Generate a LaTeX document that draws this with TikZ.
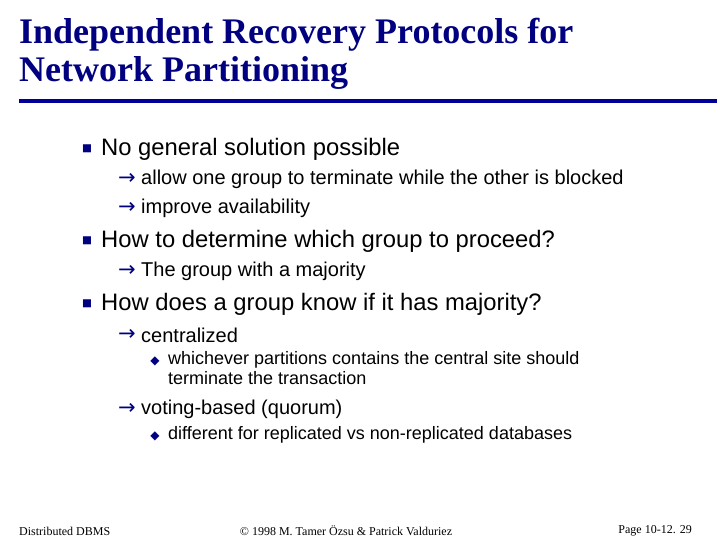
\documentclass[tikz,border=0pt]{standalone}
\usepackage{fontspec}
\setmainfont{Liberation Serif}
\setsansfont{Liberation Sans}
\newfontfamily\symf{DejaVu Sans}
\definecolor{navy}{RGB}{0,0,128}
\definecolor{rule}{RGB}{0,0,153}
\begin{document}
\begin{tikzpicture}[x=1pt,y=-1pt,
  ttl/.style={anchor=west,inner sep=0,text=navy,font=\rmfamily\bfseries\fontsize{36}{40}\selectfont},
  lone/.style={anchor=west,inner sep=0,font=\sffamily\fontsize{23.8}{26}\selectfont},
  ltwo/.style={anchor=west,inner sep=0,font=\sffamily\fontsize{20}{22}\selectfont},
  lthree/.style={anchor=north west,inner sep=0,align=left,font=\sffamily\fontsize{18}{20.5}\selectfont},
  sq/.style={anchor=center,inner sep=0,text=navy,font=\symf\fontsize{10.5}{10.5}\selectfont},
  arr/.style={anchor=center,inner sep=0,text=navy,font=\symf\fontsize{21}{21}\selectfont},
  dia/.style={anchor=center,inner sep=0,text=navy,font=\symf\fontsize{12}{12}\selectfont},
  foot/.style={inner sep=0,font=\rmfamily\fontsize{12}{14}\selectfont}]
\useasboundingbox (0,0) rectangle (720,540);
\node[ttl] (t1) at (19,35) {Independent Recovery Protocols for};
\node[ttl] (t2) at (19,73) {Network Partitioning};
\draw[rule,line width=4pt] (19,101) -- (717,101);
\node[sq] (b1) at (87,149) {■};
\node[lone] (l1) at (101,149) {No general solution possible};
\node[arr] (a1) at (127,179) {→};
\node[ltwo] (s1) at (141,179) {allow one group to terminate while the other is blocked};
\node[arr] (a2) at (127,208) {→};
\node[ltwo] (s2) at (141,208) {improve availability};
\node[sq] (b2) at (87,241) {■};
\node[lone] (l2) at (101,241) {How to determine which group to proceed?};
\node[arr] (a3) at (127,271) {→};
\node[ltwo] (s3) at (141,271) {The group with a majority};
\node[sq] (b3) at (87,304) {■};
\node[lone] (l3) at (101,304) {How does a group know if it has majority?};
\node[arr] (a4) at (127,335) {→};
\node[ltwo] (s4) at (141,335) {centralized};
\node[dia] (d1) at (155,361) {◆};
\node[lthree] (x1) at (168,351) {whichever partitions contains the central site should\\terminate the transaction};
\node[arr] (a5) at (127,409) {→};
\node[ltwo] (s5) at (141,409) {voting-based (quorum)};
\node[dia] (d2) at (155,436) {◆};
\node[lthree] (x2) at (168,426) {different for replicated vs non-replicated databases};
\node[foot,anchor=west] (f1) at (19,531) {Distributed DBMS};
\node[foot] (f2) at (346,531) {© 1998 M. Tamer Özsu \& Patrick Valduriez};
\node[foot,anchor=east] (f3) at (692,531) {Page 10-12. 29};
\end{tikzpicture}
\end{document}
